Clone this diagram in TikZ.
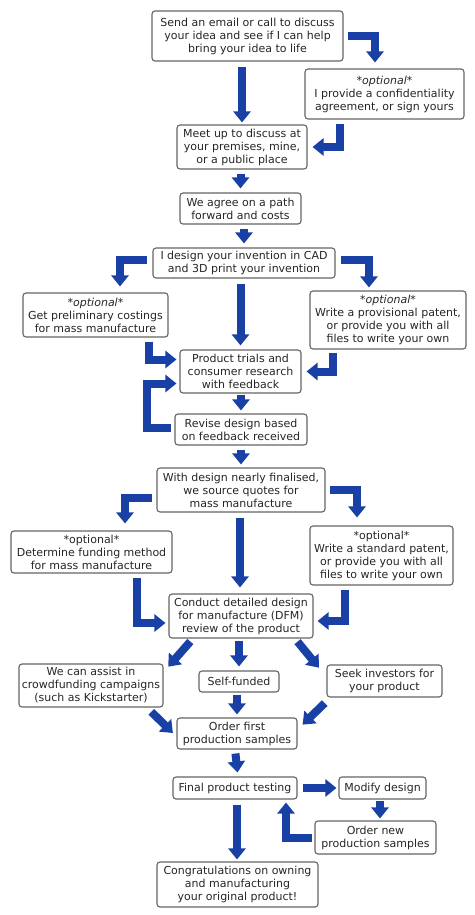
\documentclass[tikz,border=0pt]{standalone}
\usepackage{fontspec}
\setmainfont{DejaVu Sans}
\usetikzlibrary{arrows.meta}
\definecolor{flowblue}{RGB}{25,65,165}
\definecolor{boxline}{RGB}{100,100,100}

\begin{document}
\begin{tikzpicture}[x=1pt, y=-1pt,
    box/.style={draw=boxline, line width=1.1pt, rounded corners=3pt, fill=white, align=center, inner sep=1pt, text=black!85, font=\fontsize{11}{13}\selectfont},
    flow/.style={draw=flowblue, line width=8pt, line join=miter, -{Triangle[width=17pt,length=11pt]}, shorten <=4pt, shorten >=3pt}]
    \useasboundingbox (0,0) rectangle (474,915);

    \node [box, minimum width=191pt, minimum height=50pt] (send) at (247.5, 36) {Send an email or call to discuss\\your idea and see if I can help\\bring your idea to life};
    \node [box, minimum width=159pt, minimum height=50pt] (conf) at (384.5, 94) {\textit{*optional*}\\I provide a confidentiality\\agreement, or sign yours};
    \node [box, minimum width=130pt, minimum height=44pt] (meet) at (242, 147) {Meet up to discuss at\\your premises, mine,\\or a public place};
    \node [box, minimum width=121pt, minimum height=31pt] (agree) at (240.5, 208.5) {We agree on a path\\forward and costs};
    \node [box, minimum width=182pt, minimum height=30pt] (cad) at (244, 263) {I design your invention in CAD\\and 3D print your invention};
    \node [box, minimum width=145pt, minimum height=44pt] (cost) at (95.5, 315) {\textit{*optional*}\\Get preliminary costings\\for mass manufacture};
    \node [box, minimum width=156pt, minimum height=58pt] (prov) at (388, 320) {\textit{*optional*}\\Write a provisional patent,\\or provide you with all\\files to write your own};
    \node [box, minimum width=121pt, minimum height=43pt] (trials) at (240.5, 371.5) {Product trials and\\consumer research\\with feedback};
    \node [box, minimum width=132pt, minimum height=31pt] (revise) at (241, 429.5) {Revise design based\\on feedback received};
    \node [box, minimum width=168pt, minimum height=44pt] (quotes) at (241, 490) {With design nearly finalised,\\we source quotes for\\mass manufacture};
    \node [box, minimum width=161pt, minimum height=42pt] (fund) at (91.5, 552) {*optional*\\Determine funding method\\for mass manufacture};
    \node [box, minimum width=143pt, minimum height=59pt] (std) at (381.5, 555.5) {*optional*\\Write a standard patent,\\or provide you with all\\files to write your own};
    \node [box, minimum width=144pt, minimum height=44pt] (dfm) at (241, 616) {Conduct detailed design\\for manufacture (DFM)\\review of the product};
    \node [box, minimum width=144pt, minimum height=43pt] (crowd) at (91, 685.5) {We can assist in\\crowdfunding campaigns\\(such as Kickstarter)};
    \node [box, minimum width=80pt, minimum height=21pt] (self) at (239, 681.5) {Self-funded};
    \node [box, minimum width=115pt, minimum height=32pt] (seek) at (384.5, 681) {Seek investors for\\your product};
    \node [box, minimum width=120pt, minimum height=31pt] (order) at (237, 733.5) {Order first\\production samples};
    \node [box, minimum width=124pt, minimum height=22pt] (final) at (235, 788) {Final product testing};
    \node [box, minimum width=87pt, minimum height=22pt] (modify) at (382.5, 788) {Modify design};
    \node [box, minimum width=121pt, minimum height=33pt] (neworder) at (375.5, 837.5) {Order new\\production samples};
    \node [box, minimum width=161pt, minimum height=45pt] (congrats) at (237.5, 884.5) {Congratulations on owning\\and manufacturing\\your original product!};

    \draw [flow, shorten <=5pt, shorten >=2pt] (send.south -| meet.north) -- (meet.north);
    \draw [flow, shorten >=6pt] (send.east) -| ([xshift=-9.5pt]conf.north);
    \draw [flow, shorten >=5pt] ([xshift=-45pt]conf.south) |- (meet.east);
    \draw [flow, shorten >=4pt] (meet.south -| agree.north) -- (agree.north);
    \draw [flow, shorten >=4pt] (agree.south -| cad.north) -- (cad.north);
    \draw [flow, shorten <=5pt, shorten >=6pt] ([yshift=3pt]cad.west) -| ([xshift=24.5pt]cost.north);
    \draw [flow, shorten <=5pt] ([yshift=3pt]cad.east) -| ([xshift=-19pt]prov.north);
    \draw [flow, shorten <=5pt, shorten >=4pt] (cad.south -| trials.north) -- (trials.north);
    \draw [flow] ([xshift=53.5pt]cost.south) |- ([yshift=12pt]trials.west);
    \draw [flow, shorten <=3pt, shorten >=5pt] ([xshift=-55pt]prov.south) |- (trials.east);
    \draw [flow, shorten <=3pt] ([yshift=2pt]revise.west) -- ++(-27,0) |- ([yshift=-12pt]trials.west);
    \draw [flow, shorten <=1pt] (trials.south -| revise.north) -- (revise.north);
    \draw [flow] (revise.south -| quotes.north) -- (quotes.north);
    \draw [flow, shorten >=7pt] ([yshift=-8pt]quotes.west) -| ([xshift=33.5pt]fund.north);
    \draw [flow, shorten >=8pt] (quotes.east) -| ([xshift=-24.5pt]std.north);
    \draw [flow, shorten <=5pt, shorten >=6pt] ([xshift=-1pt]quotes.south) -- ([xshift=-1pt]dfm.north);
    \draw [flow] ([xshift=45.5pt]fund.south) |- ([yshift=-7pt]dfm.west);
    \draw [flow, shorten >=4pt] ([xshift=-36.5pt]std.south) |- ([yshift=-5pt]dfm.east);
    \draw [flow, shorten >=1pt] ([xshift=-48pt]dfm.south) -- ([xshift=4pt,yshift=-4pt]crowd.north east);
    \draw [flow, shorten <=2pt, shorten >=4pt] (dfm.south -| self.north) -- (self.north);
    \draw [flow, shorten >=1pt] ([xshift=54pt]dfm.south) -- ([xshift=-7pt,yshift=-4pt]seek.north west);
    \draw [flow, shorten <=6pt, shorten >=5pt] ([xshift=56pt]crowd.south) -- ([yshift=-3pt]order.west);
    \draw [flow, shorten <=8pt, shorten >=7pt] ([xshift=-54pt]seek.south) -- ([yshift=4pt]order.east);
    \draw [flow, shorten <=2pt] (self.south -| order.north) -- (order.north);
    \draw [flow, shorten >=4pt] (order.south -| final.north) -- ([xshift=3pt]final.north);
    \draw [flow, shorten <=5pt, shorten >=2pt] ([xshift=2pt]final.south) -- ([xshift=2pt]final.south |- congrats.north);
    \draw [flow, shorten <=5pt, shorten >=2pt] (final.east) -- (modify.west);
    \draw [flow, shorten <=1pt, shorten >=2pt] ([xshift=-2.5pt]modify.south) -- ([xshift=-2.5pt]modify.south |- neworder.north);
    \draw [flow, shorten <=2pt] (neworder.west) -| ([xshift=51pt]final.south);
\end{tikzpicture}
\end{document}
